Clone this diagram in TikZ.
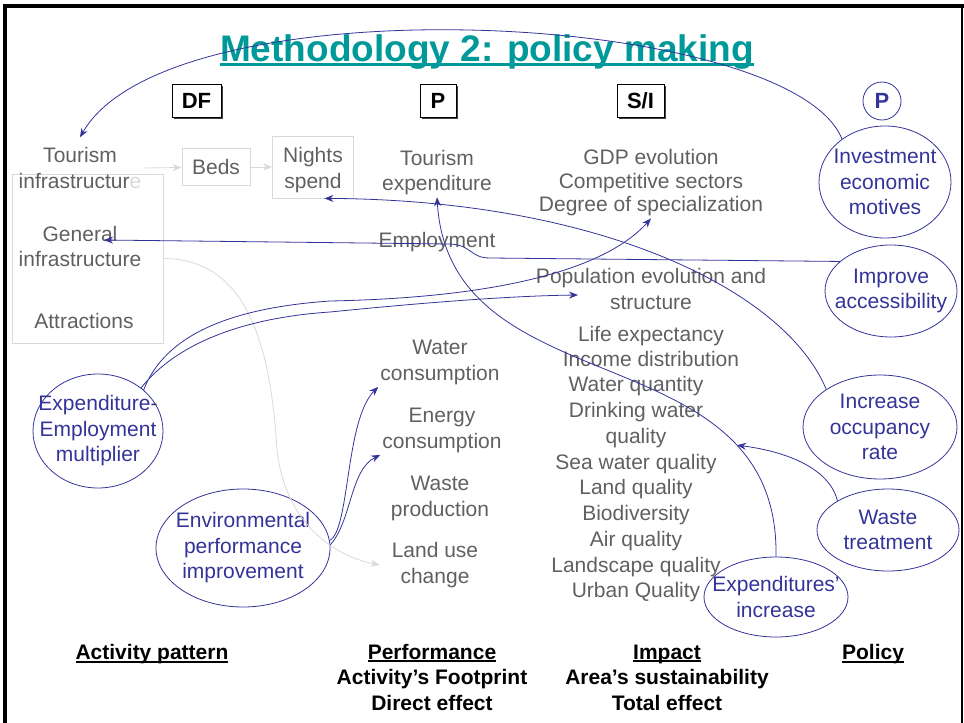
\documentclass[tikz,border=0pt]{standalone}
\usepackage{fontspec}
\setmainfont{Liberation Sans}
\usetikzlibrary{shapes.geometric,arrows.meta,shadows}
\definecolor{polblue}{RGB}{51,51,153}
\definecolor{titleteal}{RGB}{0,153,153}
\definecolor{txtgray}{RGB}{96,96,96}
\definecolor{linegray}{RGB}{217,217,217}
\newcommand*{\txtfont}{\fontsize{21}{25.5}\selectfont}
\newcommand*{\undl}[1]{\setbox0\hbox{#1}\rlap{\rule[-0.13em]{\wd0}{0.08em}}\box0}

\begin{document}
\begin{tikzpicture}[x=1pt,y=-1pt,>={Stealth[length=9pt,width=7pt]},
    gtxt/.style={text=txtgray,font=\txtfont,align=center,inner sep=2pt},
    gbox/.style={draw=linegray,line width=0.8pt},
    pol/.style={ellipse,draw=polblue,text=polblue,font=\txtfont,align=center,inner sep=-15pt,line width=0.8pt},
    hdr/.style={draw,fill=white,font=\bfseries\fontsize{22}{26}\selectfont,minimum height=33pt,inner sep=0pt,
      drop shadow={shadow xshift=2pt,shadow yshift=-2pt,fill=black!75,opacity=1}},
    lbl/.style={font=\bfseries\fontsize{21}{25.5}\selectfont,align=center},
    link/.style={->,draw=polblue,line width=0.8pt},
    glink/.style={->,draw=linegray,line width=0.8pt}]
\useasboundingbox (0,0) rectangle (964,723);
\draw[line width=3.5pt] (5,723) -- (5,6) -- (964,6);
\draw[line width=1.2pt] (962,6) -- (962,723);

\node[text=titleteal,font=\bfseries\fontsize{37}{40}\selectfont] (title) at (487,52) {\undl{Methodology 2: policy making}};

\node[hdr,minimum width=49pt] (hdf) at (196.5,100.5) {DF};
\node[hdr,minimum width=36pt] (hp) at (438,100.5) {P};
\node[hdr,minimum width=47pt] (hsi) at (640.5,100.5) {S/I};
\node[circle,draw=polblue,text=polblue,line width=0.8pt,minimum size=38pt,inner sep=0pt,
  font=\bfseries\fontsize{22}{26}\selectfont] (hpol) at (882,101) {P};

% activity pattern
\node[gbox,minimum width=151pt,minimum height=169pt] (infra) at (87.5,258.5) {};
\node[gtxt] (tinf) at (80,168) {Tourism\\infrastructur{\color{linegray}e}};
\node[gtxt] (gen) at (80,246.5) {General\\infrastructure};
\node[gtxt] (attr) at (84,321) {Attractions};
\node[gtxt,gbox,minimum width=68pt,minimum height=37pt] (beds) at (216,167) {Beds};
\node[gtxt,gbox,minimum width=81pt,minimum height=62pt] (nights) at (313,167) {};
\node[gtxt] (nightst) at (313,170) {Nights\\spend};
\coordinate (genin) at (104,240);

% performance
\node[gtxt] (texp) at (437,172.5) {Tourism\\expenditure};
\node[gtxt] (empl) at (437,242) {Employment};
\node[gtxt] (wcons) at (440,362.5) {Water\\consumption};
\node[gtxt] (econs) at (442,430.5) {Energy\\consumption};
\node[gtxt] (wprod) at (440,498.5) {Waste\\production};
\node[gtxt] (luse) at (435,565) {Land use\\change};

% impact
\node[gtxt,font=\fontsize{21}{23.5}\selectfont] (gdp) at (651,183) {GDP evolution\\Competitive sectors\\Degree of specialization};
\node[gtxt] (popn) at (651,289) {Population evolution and\\structure};
\node[gtxt] (life) at (651,346.5) {Life expectancy\\Income distribution};
\node[gtxt,font=\fontsize{21}{25.75}\selectfont] (qual) at (636,489.5) {Water quantity\\Drinking water\\quality\\Sea water quality\\Land quality\\Biodiversity\\Air quality\\Landscape quality\\Urban Quality};
\coordinate (popin) at (578,295);

% policies
\node[pol,minimum width=132pt,minimum height=112pt] (inv) at (885,182) {Investment\\economic\\motives};
\node[pol,minimum width=132pt,minimum height=92pt] (imp) at (891,291) {Improve\\accessibility};
\node[pol,minimum width=154pt,minimum height=104pt] (occ) at (880,427) {Increase\\occupancy\\rate};
\node[pol,minimum width=142pt,minimum height=82pt] (wst) at (888,530) {Waste\\treatment};
\node[pol,minimum width=144pt,minimum height=80pt] (expi) at (776,597) {Expenditures’\\increase};
\node[pol,minimum width=130pt,minimum height=114pt] (eem) at (98,431) {Expenditure-\\Employment\\multiplier};
\node[pol,minimum width=174pt,minimum height=118pt] (env) at (243,548) {Environmental\\performance\\improvement};

\draw[glink] (tinf.east) -- (beds);
\draw[glink] (beds) -- (nights);
\draw[glink] (infra.east) .. controls (240,259) and (270,330) .. (277,450)
  .. controls (285,520) and (330,555) .. ([xshift=-10pt]luse.west);

\draw[link] (inv.135) .. controls (790,10) and (170,-20) .. ([yshift=8pt]tinf.north);
\draw[link] (imp.150) -- (490,258) .. controls (470,258) and (472,245) .. (450,244) -- (genin);
\draw[link] (occ.145) .. controls (785,290) and (600,200) .. (nights.-70);
\draw[link] (expi.north) .. controls (780,330) and (450,410) .. (texp.south) coordinate[pos=0.22] (wtin);
\draw[link] (wst.150) .. controls (830,470) and (790,452) .. (wtin);
\draw[link] (eem.42) .. controls (165,335) and (230,308) .. (330,301)
  .. controls (480,298) and (600,275) .. (gdp.south);
\draw[link] (eem.45) .. controls (175,345) and (240,318) .. (330,312)
  .. controls (400,305) and (500,296) .. (popin);
\draw[link] (env.5) .. controls (350,530) and (345,420) .. (wcons.south west);
\draw[link] (env.2) .. controls (352,520) and (350,470) .. (econs.south west);

\node[lbl] (lact) at (152,654.5) {\undl{Activity pattern}};
\node[lbl] (lperf) at (432,677) {\undl{Performance}\\Activity’s Footprint\\Direct effect};
\node[lbl] (limp) at (667,677.5) {\undl{Impact}\\Area’s sustainability\\Total effect};
\node[lbl] (lpol) at (873,654.5) {\undl{Policy}};
\end{tikzpicture}
\end{document}
